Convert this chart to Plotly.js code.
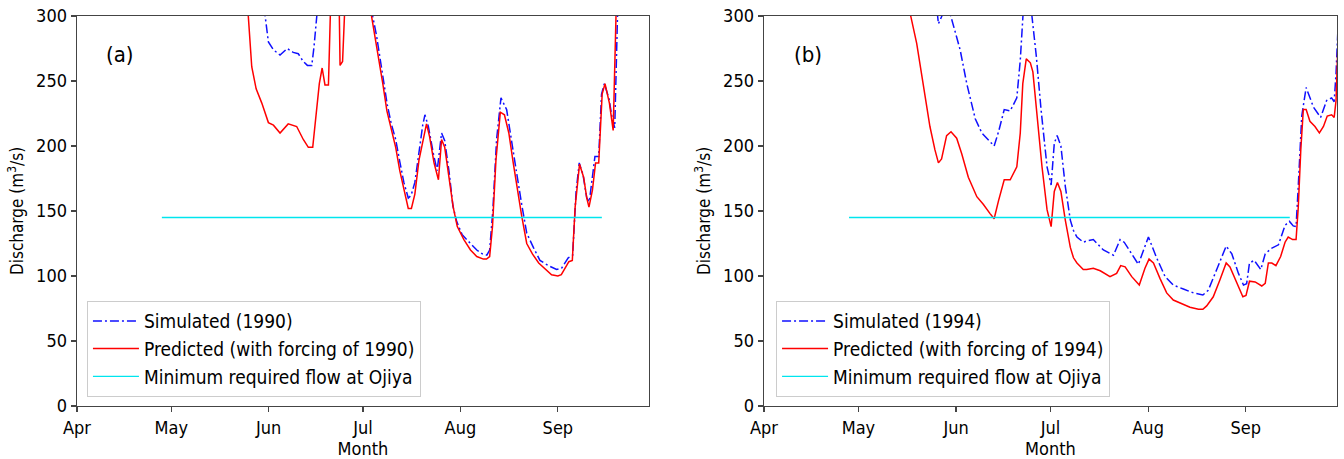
<!DOCTYPE html>
<html>
<head>
<meta charset="utf-8">
<script src="https://cdn.plot.ly/plotly-3.0.1.min.js"></script>
<style>html,body{margin:0;padding:0;background:#fff;}#chart{width:1344px;height:459px;}</style>
</head>
<body>
<div id="chart"></div>
<script>
// x values: days after 1 April; y values: discharge (m3/s)
const monthTickDays = [0, 30, 61, 91, 122, 153];
const monthTickLabels = ['Apr', 'May', 'Jun', 'Jul', 'Aug', 'Sep'];

// ---- Panel (a) 1990 ----
const simDaysA = [55, 59.6, 60.9, 62.5, 64.6, 66.9, 68.8, 70.4, 72, 73.3, 74.7, 75.4, 76.3, 77, 92, 93.9, 95.3, 97.3, 98.7, 100, 101.4, 102.7, 104, 105.4, 106.3, 107.5, 108.8, 110, 110.7, 111.8, 113.4, 114.6, 116, 117, 118.4, 119.6, 120.8, 122.5, 124, 125.6, 127.2, 129, 130.4, 131.3, 132.3, 133.5, 134.9, 136.7, 138.3, 139.9, 141.5, 143.1, 145.2, 147.3, 150, 152.6, 154.2, 156.3, 157.7, 158.8, 159.8, 161, 162.2, 163, 164.8, 166, 166.9, 167.8, 169.3, 170.3, 171.1, 172, 173, 182];
const simQA = [450, 305, 280, 274, 270, 275, 272, 271, 265, 262, 262, 276, 300, 400, 420, 302, 285, 253, 232, 217, 205, 188, 172, 160, 162, 172, 196, 216, 224, 215, 194, 181, 210, 204, 180, 154, 142, 132, 128, 124, 120, 117, 116, 120, 150, 205, 237, 228, 205, 179, 155, 133, 122, 112, 108, 105, 106, 114, 116, 165, 187, 178, 160, 157, 192, 192, 240, 248, 236, 221, 214, 305, 400, 450];

const predDaysA = [50, 54.5, 55.6, 57, 58.8, 60.9, 62.5, 64.6, 67.2, 69.9, 72, 73.6, 75, 76.3, 77.1, 78, 78.9, 80, 80.7, 81.5, 83, 83.7, 84.5, 85.1, 86, 92, 93.7, 95.2, 97.3, 98.6, 100, 101.4, 102.7, 104.1, 105.4, 106.4, 107.5, 108.8, 110.2, 111.2, 112.2, 113.6, 115, 116, 117, 118.4, 119.7, 121, 123.1, 125.2, 127.2, 129.3, 130.3, 131.3, 132.2, 133.3, 134.7, 136, 137.4, 138.8, 140.1, 141.5, 143.1, 144.9, 146.9, 149, 151, 153, 154.1, 156.5, 157.6, 158.5, 159.9, 161.2, 162.2, 162.9, 164, 165, 166, 167.1, 168, 169.4, 170.6, 171.5, 172.5, 182];
const predQA = [420, 300, 261, 244, 233, 218, 216, 210, 217, 215, 205, 199, 199, 228, 248, 260, 247, 247, 300, 380, 380, 262, 265, 300, 420, 420, 300, 279, 248, 227, 212, 199, 181, 166, 152, 152, 163, 189, 207, 217, 207, 187, 174, 205, 199, 174, 153, 138, 128, 120, 115, 113, 113, 115, 138, 189, 226, 224, 210, 187, 166, 146, 125, 117, 110, 105, 101, 100, 101, 111, 112, 153, 186, 176, 160, 153, 166, 187, 187, 240, 248, 233, 212, 300, 400, 450];

// ---- Panel (b) 1994 ----
const simDaysB = [50, 55, 55.4, 56.5, 58, 59.1, 60.2, 62.3, 64.4, 67.1, 69.2, 71.3, 73.1, 74.5, 76.3, 78.2, 80.3, 81.4, 82.2, 83, 84.3, 85.1, 86.5, 88, 89.9, 91.2, 92.2, 93.1, 94.3, 95.7, 97.3, 98.3, 99.4, 101.4, 102.6, 104.6, 106.2, 107.8, 111, 113.1, 114.4, 115.7, 118.9, 122.1, 124.7, 127.4, 130, 133.2, 136.4, 139.4, 141.1, 143.8, 146.8, 148.6, 150.7, 152.3, 153.3, 154.2, 155.7, 157.8, 159.2, 161, 163.4, 165.5, 166.9, 168.1, 169, 169.7, 170.8, 172.2, 174.5, 176.8, 178.7, 180.3, 181.1, 181.7, 182.2, 183];
const simQB = [420, 305, 294, 300, 310, 302, 292, 274, 248, 221, 210, 205, 200, 211, 228, 227, 237, 266, 300, 330, 330, 300, 269, 228, 184, 170, 202, 208, 200, 169, 143, 135, 130, 126, 127, 128, 124, 120, 116, 128, 126, 121, 109, 130, 114, 99.5, 93, 90, 87, 85.4, 89, 105, 123, 117, 102, 93, 94, 110, 112, 105, 117, 121, 124, 139, 142, 138.5, 138, 169, 223, 245, 230, 222, 235, 237, 234, 256, 297, 330];

const predDaysB = [42, 46.6, 48.5, 50.6, 52.7, 54.3, 55.4, 56.4, 58, 59.4, 61.2, 62.8, 64.9, 67.6, 69.7, 71.8, 73.1, 74.5, 76.3, 78.2, 80.3, 81.4, 82.2, 83.3, 84.6, 85.4, 86.7, 88.3, 89.9, 91.2, 92.2, 93.2, 94.3, 95.7, 97.3, 98.3, 99.4, 101.4, 102.5, 104.6, 106.8, 107.8, 109.9, 112, 113.3, 114.7, 116.8, 119.2, 121, 122.3, 123.7, 125.8, 127.9, 130, 133.2, 135.3, 138, 139.4, 140.6, 142.7, 144.8, 146.8, 148, 150.2, 152.1, 153.1, 154.2, 156, 158.1, 159.2, 160.2, 161.3, 162.6, 164.1, 165.5, 166.5, 167.9, 169, 169.7, 170.5, 171.3, 172.2, 173.4, 175, 176.4, 177.7, 178.9, 180.3, 181.1, 181.7, 182.1, 183];
const predQB = [400, 300, 279, 248, 215, 197, 187, 190, 208, 211, 206, 194, 176, 161, 155, 148, 144, 158, 174, 174, 184, 210, 248, 267, 264, 257, 223, 184, 151, 138, 165, 172, 165, 143, 122, 114, 110, 105, 105, 106, 104, 102.6, 99.5, 102, 108, 107, 99.5, 93, 106, 113, 110, 98, 87, 81.5, 78.5, 76, 74.4, 74.4, 77, 84, 97, 110, 107, 94, 84, 85, 96, 95.4, 92.3, 94.4, 110, 110, 108, 115, 126, 130, 128, 128, 153, 197, 228, 228, 219, 215, 210, 215, 223, 224, 222, 235, 277, 330];

// Minimum required flow at Ojiya
const minFlowDays = [27, 167];
const minFlowQ = [145, 145];

const FONT = "'DejaVu Sans Condensed', 'DejaVu Sans', sans-serif";
const AX = '#444444';

function traces(simX, simY, predX, predY, year, xa, ya, leg) {
  return [
    {x: simX, y: simY, xaxis: xa, yaxis: ya, legend: leg, type: 'scatter', mode: 'lines',
     name: 'Simulated (' + year + ')', line: {color: '#1010ff', width: 1.5, dash: '9px,3px,2px,3px'}},
    {x: predX, y: predY, xaxis: xa, yaxis: ya, legend: leg, type: 'scatter', mode: 'lines',
     name: 'Predicted (with forcing of ' + year + ')', line: {color: '#ff0000', width: 1.5}},
    {x: minFlowDays, y: minFlowQ, xaxis: xa, yaxis: ya, legend: leg, type: 'scatter', mode: 'lines',
     name: 'Minimum required flow at Ojiya', line: {color: '#00e5ee', width: 1.3}}
  ];
}

const data = traces(simDaysA, simQA, predDaysA, predQA, 1990, 'x', 'y', 'legend')
  .concat(traces(simDaysB, simQB, predDaysB, predQB, 1994, 'x2', 'y2', 'legend2'));

function xax(domain, anchor) {
  return {domain: domain, anchor: anchor, range: [0, 182], tickmode: 'array',
    tickvals: monthTickDays, ticktext: monthTickLabels, ticks: 'outside', ticklen: 5,
    tickwidth: 1.2, tickcolor: AX, showline: true, linecolor: AX, linewidth: 1.4, mirror: true,
    showgrid: false, zeroline: false, tickfont: {size: 18, color: '#000'},
    title: {text: 'Month', font: {size: 18, color: '#000'}, standoff: 5}};
}
function yax(anchor) {
  return {anchor: anchor, range: [0, 300], tick0: 0, dtick: 50, ticks: 'outside', ticklen: 5,
    tickwidth: 1.2, tickcolor: AX, showline: true, linecolor: AX, linewidth: 1.4, mirror: true,
    showgrid: false, zeroline: false, tickfont: {size: 18, color: '#000'},
    title: {text: 'Discharge (m<sup>3</sup>/s)', font: {size: 17, color: '#000'}, standoff: 8}};
}

const legendCommon = {yanchor: 'bottom', xanchor: 'left', y: 0.023, bgcolor: 'rgba(255,255,255,0.85)',
  bordercolor: '#cccccc', borderwidth: 1, font: {size: 19, color: '#000'}, itemwidth: 46};

const layout = {
  width: 1344, height: 459,
  margin: {l: 77, r: 7, t: 16, b: 53},
  paper_bgcolor: '#fff', plot_bgcolor: '#fff',
  font: {family: FONT, color: '#000'},
  showlegend: true,
  xaxis: xax([0, 0.45397], 'y'),
  yaxis: yax('x'),
  xaxis2: xax([0.54524, 1], 'y2'),
  yaxis2: yax('x2'),
  legend: Object.assign({x: 0.0079}, legendCommon),
  legend2: Object.assign({x: 0.5548}, legendCommon),
  annotations: [
    {text: '(a)', xref: 'x domain', yref: 'y domain', x: 0.075, y: 0.9, xanchor: 'center', yanchor: 'middle',
     showarrow: false, font: {size: 22, color: '#000'}},
    {text: '(b)', xref: 'x2 domain', yref: 'y2 domain', x: 0.077, y: 0.9, xanchor: 'center', yanchor: 'middle',
     showarrow: false, font: {size: 22, color: '#000'}}
  ]
};

Plotly.newPlot('chart', data, layout, {displayModeBar: false, staticPlot: true});
</script>
</body>
</html>
